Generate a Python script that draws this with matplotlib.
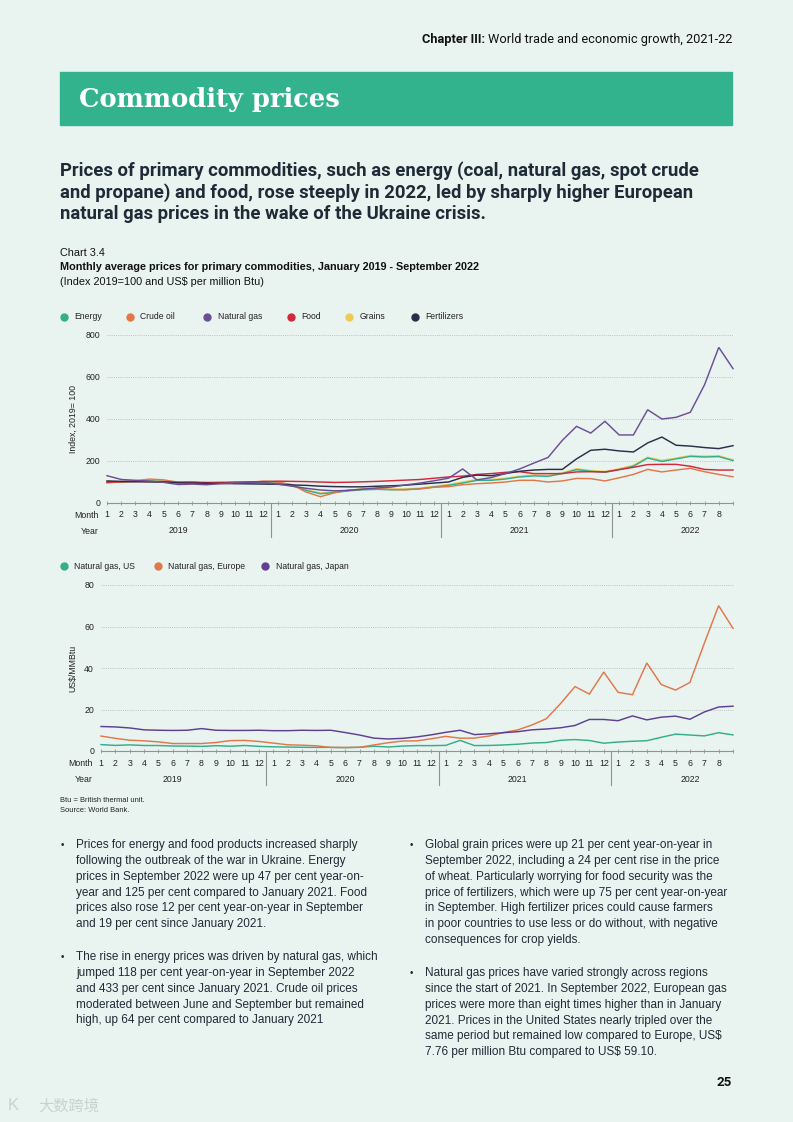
import matplotlib
matplotlib.use("Agg")
import matplotlib.pyplot as plt
from matplotlib.patches import Rectangle
from matplotlib.lines import Line2D
from matplotlib.transforms import blended_transform_factory

# page / colours
W, H = 793, 1122
BG = '#E9F4F1'
GREEN = '#33B28E'
INK = '#1E2A36'
GRID = '#B9C3C1'
AXIS = '#8C9494'

plt.rcParams['font.family'] = ['Liberation Sans', 'DejaVu Sans']

##
## DATA
##
month_labels = [str(m) for m in range(1, 13)] * 3 + [str(m) for m in range(1, 9)]
year_labels = ['2019', '2020', '2021', '2022']

# Chart 1, index 2019 = 100, Jan 2019 - Sep 2022
energy = [98, 100, 102, 105, 103, 96, 96, 92, 95, 94, 96, 98,
          96, 84, 60, 44, 50, 58, 63, 65, 63, 64, 68, 76,
          84, 95, 108, 108, 114, 124, 129, 127, 140, 159, 151, 146,
          159, 175, 214, 198, 210, 222, 219, 221, 202]
crude_oil = [95, 102, 106, 114, 110, 99, 100, 94, 98, 93, 98, 104,
             100, 87, 52, 30, 49, 62, 66, 68, 64, 63, 67, 75,
             78, 87, 92, 95, 100, 108, 108, 100, 105, 117, 116, 105,
             120, 136, 160, 148, 157, 165, 149, 136, 125]
natural_gas = [130, 112, 108, 104, 98, 88, 90, 87, 92, 95, 97, 95,
               90, 80, 70, 62, 58, 60, 66, 72, 76, 86, 95, 106,
               118, 162, 110, 121, 140, 162, 190, 217, 298, 365, 333, 389,
               324, 324, 444, 400, 408, 432, 563, 741, 640]
food = [100, 101, 102, 101, 100, 99, 99, 98, 98, 100, 101, 102,
        104, 103, 102, 100, 98, 99, 101, 103, 106, 109, 112, 118,
        124, 128, 136, 140, 146, 149, 140, 140, 140, 148, 149, 148,
        159, 170, 183, 184, 184, 175, 160, 157, 157]
grains = [100, 101, 103, 108, 106, 99, 98, 95, 96, 96, 98, 100,
          98, 87, 63, 48, 53, 61, 66, 68, 66, 67, 71, 80,
          88, 100, 112, 112, 118, 128, 133, 131, 144, 163, 155, 150,
          163, 180, 218, 203, 214, 226, 223, 225, 206]
fertilizers = [105, 103, 102, 101, 100, 96, 95, 94, 93, 92, 91, 90,
               89, 86, 84, 80, 78, 77, 77, 80, 82, 85, 90, 95,
               100, 122, 133, 130, 140, 151, 157, 160, 160, 210, 251, 256,
               248, 243, 286, 314, 275, 271, 264, 259, 273]

# Chart 2, US$ per MMBtu
gas_us = [3.09, 2.69, 2.95, 2.65, 2.64, 2.40, 2.37, 2.22, 2.56, 2.33, 2.65, 2.22,
          2.02, 1.91, 1.79, 1.74, 1.75, 1.63, 1.77, 2.30, 1.92, 2.39, 2.61, 2.59,
          2.71, 5.12, 2.62, 2.66, 2.91, 3.26, 3.84, 4.07, 5.16, 5.51, 5.05, 3.76,
          4.33, 4.69, 4.96, 6.59, 8.14, 7.70, 7.28, 8.80, 7.76]
gas_europe = [7.2, 6.1, 5.2, 4.9, 4.4, 3.6, 3.6, 3.6, 4.1, 5.0, 5.1, 4.6,
              3.8, 3.0, 2.8, 2.5, 1.7, 1.7, 1.8, 2.9, 4.0, 4.8, 4.9, 5.9,
              7.05, 6.17, 6.23, 7.20, 8.92, 10.14, 12.53, 15.54, 22.89, 31.05, 27.42, 38.05,
              28.27, 27.13, 42.42, 32.05, 29.36, 33.04, 51.88, 70.04, 59.10]
gas_japan = [11.8, 11.6, 11.1, 10.2, 10.0, 9.9, 10.0, 10.8, 10.0, 9.9, 9.9, 10.0,
             9.8, 9.8, 10.0, 9.9, 10.0, 8.9, 7.7, 6.2, 5.8, 6.1, 6.8, 7.8,
             9.0, 10.0, 7.9, 8.3, 8.8, 9.3, 10.2, 10.6, 11.2, 12.3, 15.2, 15.2,
             14.6, 16.9, 15.0, 16.3, 16.8, 15.3, 18.8, 21.2, 21.6]

series1 = [('Energy', energy, '#34AE8B'), ('Crude oil', crude_oil, '#E2774A'),
           ('Natural gas', natural_gas, '#6C4E96'), ('Food', food, '#D4273B'),
           ('Grains', grains, '#EFCB55'), ('Fertilizers', fertilizers, '#2B2D4B')]
draw_order1 = ['Grains', 'Energy', 'Crude oil', 'Food', 'Fertilizers', 'Natural gas']
series2 = [('Natural gas, US', gas_us, '#34AE8B'),
           ('Natural gas, Europe', gas_europe, '#E2774A'),
           ('Natural gas, Japan', gas_japan, '#5E3F91')]


def fx(x):
    return x / W


def fy(y):
    return 1 - y / H


fig = plt.figure(figsize=(W / 100, H / 100), dpi=100, facecolor=BG)

# page header
hdr = fig.text(fx(732), fy(39), 'World trade and economic growth, 2021-22', fontsize=9.2,
               family=['Roboto', 'DejaVu Sans'], color='#111', va='center', ha='right')
fig.canvas.draw()
r = fig.canvas.get_renderer()
bb = hdr.get_window_extent(r)
fig.text(bb.x0 / W - fx(3), fy(39), 'Chapter III:', fontsize=9.2, fontweight='bold',
         family=['Roboto', 'DejaVu Sans'], color='#111', va='center', ha='right')

fig.patches.append(Rectangle((fx(60), fy(125)), (732 - 60) / W, (125 - 72) / H,
                             transform=fig.transFigure, color=GREEN, zorder=0))
fig.text(fx(79), fy(99), 'Commodity prices', fontsize=18.5, fontweight='bold',
         family=['DejaVu Serif'], color='white', va='center')

headline = ['Prices of primary commodities, such as energy (coal, natural gas, spot crude',
            'and propane) and food, rose steeply in 2022, led by sharply higher European',
            'natural gas prices in the wake of the Ukraine crisis.']
for i, line in enumerate(headline):
    fig.text(fx(60), fy(171 + i * 21.5), line, fontsize=13.3, fontweight='bold',
             family=['Roboto', 'DejaVu Sans'], color=INK, va='center')

fig.text(fx(60), fy(253), 'Chart 3.4', fontsize=7.8, color='#111', va='center')
fig.text(fx(60), fy(267), 'Monthly average prices for primary commodities, January 2019 - September 2022',
         fontsize=7.8, fontweight='bold', color='#111', va='center')
fig.text(fx(60), fy(282), '(Index 2019=100 and US$ per million Btu)', fontsize=7.8,
         color='#111', va='center')


def legend(items, xs, y):
    for (name, _, col), x in zip(items, xs):
        fig.add_artist(Line2D([fx(x)], [fy(y)], marker='o', ms=5, color=col, mec=col,
                              transform=fig.transFigure))
        fig.text(fx(x + 10.5), fy(y), name, fontsize=6.2, color='#222', va='center')


def chart(left, top, bottom, items, order, ymax, ystep, ylabel, sep_px):
    ax = fig.add_axes([fx(left), fy(bottom), (733 - left) / W, (bottom - top) / H])
    ax.set_facecolor('none')
    for s in ax.spines.values():
        s.set_visible(False)
    n = len(items[0][1])
    ax.set_xlim(0, n - 1)
    ax.set_ylim(0, ymax)
    for yv in range(ystep, ymax + 1, ystep):
        ax.axhline(yv, color=GRID, lw=0.7, ls=(0, (1, 1.2)), zorder=0, clip_on=False)
    ax.axhline(0, color=AXIS, lw=0.8, zorder=1, clip_on=False)
    lookup = {name: (vals, col) for name, vals, col in items}
    for name in order:
        vals, col = lookup[name]
        ax.plot(range(n), vals, color=col, lw=1.05, clip_on=False, zorder=3,
                solid_joinstyle='miter')
    ax.set_xticks(range(n))
    ax.set_xticklabels([])
    ax.tick_params(axis='x', length=3, width=0.6, color=AXIS, direction='inout')
    ax.set_yticks(range(0, ymax + 1, ystep))
    ax.tick_params(axis='y', length=0, pad=5, labelsize=6.3, labelcolor='#222')
    hpx = bottom - top
    tr = blended_transform_factory(ax.transData, ax.transAxes)
    for i, lab in enumerate(month_labels):
        ax.text(i, -12 / hpx, lab, transform=tr, ha='center', va='center',
                fontsize=6.3, color='#222')
    for k, yl in enumerate(year_labels):
        ax.text(5 + 12 * k, -28 / hpx, yl, transform=tr, ha='center', va='center',
                fontsize=6.3, color='#222')
    for k in range(3):
        ax.plot([11.5 + 12 * k] * 2, [0, -sep_px / hpx], transform=tr, color=AXIS,
                lw=0.8, clip_on=False)
    fig.text(fx(left - 8), fy(bottom + 12), 'Month', ha='right', va='center',
             fontsize=6.3, color='#222')
    fig.text(fx(left - 8), fy(bottom + 28), 'Year', ha='right', va='center',
             fontsize=6.3, color='#222')
    fig.text(fx(73), fy((top + bottom) / 2), ylabel, rotation=90, ha='center', va='center',
             fontsize=6.3, color='#222')
    return ax


legend(series1, [64, 130, 207, 291, 349, 415], 317)
chart(107, 335, 503, series1, draw_order1, 800, 200, 'Index, 2019= 100', 34)

legend(series2, [64, 158, 265], 566)
chart(101, 585, 751, series2, [s[0] for s in series2], 80, 20, 'US$/MMBtu', 34)

fig.text(fx(60), fy(800), 'Btu = British thermal unit.', fontsize=5.4, color='#222', va='center')
fig.text(fx(60), fy(810), 'Source: World Bank.', fontsize=5.4, color='#222', va='center')

# body text
left_col = [
    ['Prices for energy and food products increased sharply',
     'following the outbreak of the war in Ukraine. Energy',
     'prices in September 2022 were up 47 per cent year-on-',
     'year and 125 per cent compared to January 2021. Food',
     'prices also rose 12 per cent year-on-year in September',
     'and 19 per cent since January 2021.'],
    ['The rise in energy prices was driven by natural gas, which',
     'jumped 118 per cent year-on-year in September 2022',
     'and 433 per cent since January 2021. Crude oil prices',
     'moderated between June and September but remained',
     'high, up 64 per cent compared to January 2021'],
]
right_col = [
    ['Global grain prices were up 21 per cent year-on-year in',
     'September 2022, including a 24 per cent rise in the price',
     'of wheat. Particularly worrying for food security was the',
     'price of fertilizers, which were up 75 per cent year-on-year',
     'in September. High fertilizer prices could cause farmers',
     'in poor countries to use less or do without, with negative',
     'consequences for crop yields.'],
    ['Natural gas prices have varied strongly across regions',
     'since the start of 2021. In September 2022, European gas',
     'prices were more than eight times higher than in January',
     '2021. Prices in the United States nearly tripled over the',
     'same period but remained low compared to Europe, US$',
     '7.76 per million Btu compared to US$ 59.10.'],
]


def paragraphs(paras, xb, xt, ystarts):
    for lines, y0 in zip(paras, ystarts):
        fig.text(fx(xb), fy(y0), '\u2022', fontsize=7, color=INK, va='center')
        for j, line in enumerate(lines):
            fig.text(fx(xt), fy(y0 + j * 15.85), line, fontsize=8.5, color=INK,
                     va='center')


paragraphs(left_col, 61, 76, [845, 957])
paragraphs(right_col, 410, 425, [845, 973])

fig.text(fx(732), fy(1083), '25', ha='right', va='center', fontsize=9.5,
         fontweight='bold', family=['Roboto', 'DejaVu Sans'], color='#111')
fig.text(fx(38), fy(1106), '大数跨境', fontsize=11, color='#C9D2D0', va='center',
         family=['Noto Sans CJK SC', 'DejaVu Sans'])
fig.text(fx(8), fy(1106), 'K', fontsize=12, color='#C9D2D0', va='center')

fig.savefig('out.png', dpi=100, facecolor=BG)
